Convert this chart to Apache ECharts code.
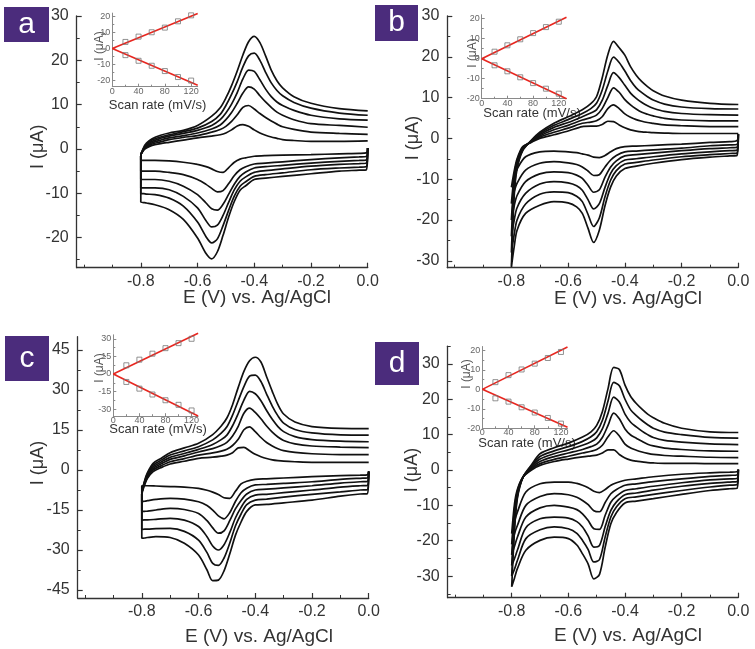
<!DOCTYPE html>
<html>
<head>
<meta charset="utf-8">
<script src="https://cdn.jsdelivr.net/npm/echarts@6/dist/echarts.min.js"></script>
<style>
html, body { margin: 0; padding: 0; background: #fff; }
#chart { width: 755px; height: 649px; }
</style>
</head>
<body>
<div id="chart"></div>
<script>
// 电位网格 (V)：正扫 -0.8 -> 0，回扫 0 -> -0.8
const upE = [-0.8, -0.79, -0.78, -0.76, -0.73, -0.7, -0.65, -0.6, -0.55, -0.52, -0.5, -0.48, -0.46, -0.44, -0.42, -0.4, -0.38, -0.36, -0.34, -0.32, -0.3, -0.26, -0.2, -0.1, 0];
const dnE = [0, -0.005, -0.03, -0.1, -0.2, -0.3, -0.36, -0.4, -0.43, -0.45, -0.47, -0.49, -0.51, -0.53, -0.55, -0.57, -0.6, -0.65, -0.7, -0.75, -0.78, -0.79, -0.8];

// a 图电流 (μA)，6 个扫速从小到大
const aUp = [
  [-1.5, -0.3, 0.2, 0.8, 1.2, 1.5, 2.0, 2.5, 2.9, 3.2, 3.6, 4.3, 5.2, 5.5, 5.1, 4.3, 3.6, 3.1, 2.7, 2.4, 2.1, 1.9, 1.7, 1.7, 1.8],
  [-1.5, -0.2, 0.4, 1.1, 1.6, 2.1, 2.6, 3.0, 3.8, 4.4, 5.1, 6.2, 7.7, 9.4, 9.8, 9.0, 8.0, 7.1, 6.3, 5.6, 5.0, 4.4, 3.8, 3.5, 3.3],
  [-1.5, -0.1, 0.6, 1.4, 2.0, 2.5, 3.0, 3.6, 4.5, 5.4, 6.6, 8.2, 10.3, 12.6, 14.0, 13.5, 12.0, 10.6, 9.4, 8.3, 7.6, 6.6, 5.7, 5.3, 4.9],
  [-1.5, 0.0, 0.8, 1.7, 2.4, 2.9, 3.5, 4.2, 5.3, 6.6, 8.1, 10.1, 12.7, 15.8, 17.8, 17.5, 15.6, 13.5, 11.8, 10.6, 9.8, 8.7, 7.6, 6.8, 6.5],
  [-1.5, 0.1, 1.0, 2.0, 2.7, 3.2, 3.9, 4.7, 6.2, 7.8, 9.8, 12.3, 15.2, 18.5, 21.0, 21.6, 20.0, 17.3, 14.9, 13.2, 12.0, 10.5, 9.2, 8.1, 7.6],
  [-1.5, 0.3, 1.3, 2.3, 3.1, 3.6, 4.2, 5.3, 7.4, 9.3, 11.5, 14.3, 17.6, 21.2, 24.2, 25.4, 24.0, 21.0, 17.8, 15.4, 13.8, 11.8, 10.3, 9.1, 8.6]
];
const aDn = [
  [0.2, -0.9, -1.0, -1.1, -1.3, -1.4, -1.5, -1.65, -2.0, -2.3, -3.0, -4.2, -5.3, -5.1, -4.5, -4.0, -3.5, -3.0, -2.7, -2.6, -2.6, -2.6, -2.6],
  [0.2, -1.7, -1.8, -2.0, -2.4, -2.9, -3.2, -3.4, -4.0, -4.7, -6.0, -7.8, -9.4, -9.7, -8.9, -8.0, -6.9, -5.8, -5.3, -5.0, -5.0, -5.0, -5.0],
  [0.2, -2.5, -2.6, -2.8, -3.2, -3.7, -4.0, -4.3, -5.2, -6.2, -7.9, -10.2, -12.5, -13.8, -13.5, -12.2, -10.3, -8.4, -7.3, -6.9, -6.9, -6.9, -6.9],
  [0.2, -3.2, -3.3, -3.5, -3.9, -4.5, -4.9, -5.3, -6.3, -7.3, -9.2, -12.0, -15.0, -17.2, -17.6, -16.2, -13.3, -10.7, -9.2, -8.8, -8.8, -8.8, -8.8],
  [0.2, -4.0, -4.1, -4.3, -4.7, -5.4, -5.8, -6.2, -7.4, -8.4, -10.6, -13.8, -17.3, -20.3, -21.2, -19.8, -16.5, -12.9, -11.1, -10.3, -10.2, -10.1, -10.1],
  [0.2, -4.7, -4.8, -5.0, -5.6, -6.2, -6.6, -6.9, -8.3, -9.3, -11.8, -15.3, -19.5, -23.2, -24.8, -23.6, -20.1, -15.9, -13.7, -12.6, -12.2, -12.1, -12.0]
];

// b 图
const bUp = [
  [-12, -8, -5, -2.0, -1.0, 0.0, 0.9, 1.8, 2.9, 3.0, 3.0, 3.4, 4.2, 4.1, 3.3, 2.6, 2.1, 1.8, 1.6, 1.5, 1.4, 1.3, 1.2, 1.2, 1.2],
  [-16, -9, -5.5, -2.2, -0.9, 0.3, 1.5, 2.5, 3.7, 4.0, 4.3, 5.3, 7.3, 8.2, 7.3, 6.0, 5.2, 4.6, 4.2, 3.9, 3.7, 3.3, 3.1, 2.9, 2.9],
  [-20, -10, -6, -2.4, -0.8, 0.6, 2.1, 3.2, 4.5, 5.1, 5.7, 7.3, 10.0, 12.4, 11.3, 9.5, 8.2, 7.2, 6.4, 5.9, 5.5, 4.9, 4.5, 4.3, 4.3],
  [-24, -11, -6.5, -2.6, -0.7, 0.9, 2.7, 3.9, 5.3, 6.2, 7.0, 9.3, 13.0, 16.1, 14.9, 13.0, 11.1, 9.8, 8.8, 8.0, 7.4, 6.6, 6.1, 5.8, 5.7],
  [-28, -12.5, -7, -2.8, -0.6, 1.2, 3.2, 4.6, 6.1, 7.3, 8.6, 11.8, 16.5, 19.9, 18.6, 16.5, 14.2, 12.4, 11.2, 10.2, 9.4, 8.4, 7.7, 7.3, 7.2],
  [-31.5, -14, -7.5, -3.0, -0.5, 1.5, 3.7, 5.3, 7.0, 8.5, 10.2, 14.8, 20.5, 23.8, 22.2, 20.4, 17.6, 15.5, 13.9, 12.7, 11.7, 10.4, 9.4, 8.6, 8.3]
];
const bDn = [
  [1.0, -0.6, -0.8, -1.0, -1.4, -1.7, -1.9, -2.0, -2.5, -3.3, -4.2, -4.7, -4.6, -4.1, -3.8, -3.5, -3.3, -3.1, -3.3, -4.5, -7.5, -9.5, -12],
  [1.0, -1.5, -1.6, -1.8, -2.4, -2.8, -3.1, -3.3, -4.2, -5.3, -7.0, -8.9, -9.1, -8.0, -7.0, -6.4, -6.0, -5.7, -6.1, -7.8, -11, -13, -16],
  [1.0, -2.2, -2.3, -2.5, -3.0, -3.6, -4.0, -4.3, -5.5, -7.0, -9.5, -12.6, -13.2, -11.5, -9.8, -9.0, -8.4, -8.2, -8.7, -10.6, -14, -16.5, -20],
  [1.0, -2.9, -3.0, -3.3, -3.8, -4.5, -5.0, -5.3, -6.7, -8.6, -12.0, -16.0, -17.3, -15.0, -12.7, -11.6, -10.9, -10.6, -11.2, -13.5, -17, -20, -24],
  [1.0, -3.6, -3.7, -4.0, -4.5, -5.3, -5.9, -6.3, -7.9, -10.2, -14.3, -19.5, -21.6, -18.6, -15.5, -14.2, -13.3, -13.1, -13.7, -16.1, -20, -23.5, -28],
  [1.0, -4.2, -4.3, -4.6, -5.2, -6.1, -6.8, -7.4, -9.2, -11.9, -16.5, -22.5, -25.5, -22.0, -18.4, -16.8, -15.8, -15.5, -16.4, -18.4, -22.5, -26.5, -31.5]
];

// c 图
const cUp = [
  [-9, -5.5, -3.1, -0.6, 1.0, 2.25, 3.3, 4.4, 4.8, 5.2, 5.6, 6.5, 8.3, 8.5, 7.2, 5.9, 5.0, 4.3, 3.8, 3.5, 3.3, 3.1, 2.9, 2.9, 2.9],
  [-9, -5.2, -2.7, 0.0, 1.7, 3.1, 4.3, 5.6, 6.4, 7.1, 7.8, 9.2, 11.5, 15.1, 16.2, 14.4, 12.2, 10.3, 9.0, 8.0, 7.3, 6.6, 6.1, 5.8, 5.75],
  [-9, -4.9, -2.3, 0.6, 2.4, 4.0, 5.3, 6.75, 8.0, 9.2, 10.4, 12.8, 16.4, 21.3, 23.2, 21.6, 19.2, 16.5, 14.2, 12.4, 11.1, 9.8, 9.0, 8.6, 8.4],
  [-9, -4.6, -1.9, 1.2, 3.1, 4.75, 6.2, 7.75, 9.6, 11.4, 13.1, 16.6, 21.2, 26.2, 29.5, 28.6, 26.0, 22.3, 19.0, 16.3, 14.4, 12.5, 11.4, 10.8, 10.6],
  [-9, -4.3, -1.5, 1.8, 3.8, 5.6, 7.2, 8.75, 11.3, 13.8, 16.2, 20.6, 26.0, 31.3, 35.2, 35.6, 33.2, 28.5, 24.0, 20.3, 17.6, 15.2, 13.9, 13.2, 13.1],
  [-9, -4, -1.0, 2.5, 4.5, 6.5, 8.3, 10.0, 13.3, 16.5, 19.5, 24.5, 31.0, 37.0, 41.0, 42.3, 40.5, 35.0, 29.5, 24.5, 21.0, 18.0, 16.3, 15.6, 15.5]
];
const cDn = [
  [-0.6, -1.8, -1.9, -2.1, -2.5, -3.0, -3.3, -3.5, -4.2, -5.2, -8.0, -10.6, -10.4, -9.2, -8.3, -7.6, -6.9, -6.4, -6.2, -6.0, -5.9, -5.9, -5.9],
  [-0.6, -3.0, -3.1, -3.5, -4.4, -5.0, -5.4, -5.6, -6.8, -8.5, -11.8, -16.0, -18.3, -17.2, -15.0, -13.3, -11.9, -10.9, -10.6, -11.0, -11.5, -11.7, -11.9],
  [-0.6, -4.3, -4.4, -4.9, -5.9, -6.7, -7.2, -7.5, -9.0, -11.4, -14.6, -19.0, -22.8, -23.7, -21.7, -19.0, -16.3, -14.8, -14.4, -15.0, -15.4, -15.5, -15.6],
  [-0.6, -5.8, -5.9, -6.4, -7.5, -8.5, -9.1, -9.4, -11.0, -14.0, -18.0, -23.5, -28.0, -30.0, -28.5, -25.0, -21.2, -18.8, -18.1, -18.5, -18.7, -18.7, -18.8],
  [-0.6, -7.4, -7.5, -8.2, -9.1, -10.2, -10.9, -11.3, -13.0, -16.5, -21.0, -27.5, -33.0, -35.8, -35.0, -31.0, -26.3, -23.0, -21.9, -22.0, -22.2, -22.2, -22.3],
  [-0.6, -8.9, -9.0, -9.8, -11.3, -12.3, -12.9, -13.1, -15.5, -19.5, -24.5, -31.5, -37.8, -41.3, -41.5, -37.5, -31.9, -27.5, -25.3, -25.0, -25.3, -25.5, -25.6]
];

// d 图
const dUp = [
  [-18, -9.5, -5.5, -2.0, 0.0, 1.3, 2.4, 3.1, 3.7, 4.0, 4.2, 4.8, 5.7, 5.7, 4.4, 3.4, 2.8, 2.5, 2.3, 2.1, 2.0, 1.9, 1.9, 1.8, 1.8],
  [-21, -11, -6, -2.0, 0.3, 1.8, 3.0, 3.9, 4.8, 5.3, 5.8, 7.0, 9.4, 11.1, 9.6, 7.3, 6.2, 5.6, 5.1, 4.7, 4.4, 4.1, 3.9, 3.6, 3.5],
  [-24, -12.5, -6.5, -2.0, 0.6, 2.4, 3.8, 4.8, 5.8, 6.6, 7.3, 9.2, 12.6, 16.1, 14.5, 11.6, 9.9, 9.0, 8.1, 7.3, 6.8, 6.2, 5.8, 5.4, 5.3],
  [-27, -14, -7, -2.0, 0.9, 3.1, 4.6, 5.7, 7.0, 8.0, 9.1, 11.6, 16.0, 20.6, 19.2, 15.8, 13.5, 12.2, 11.0, 10.0, 9.2, 8.4, 7.9, 7.4, 7.2],
  [-30, -15.5, -7.5, -2.0, 1.2, 3.8, 5.4, 6.6, 8.1, 9.4, 10.8, 14.0, 19.5, 24.8, 23.8, 20.0, 17.0, 15.4, 14.0, 12.8, 11.8, 10.7, 10.0, 9.2, 9.0],
  [-33, -17, -8, -2.0, 1.5, 4.6, 6.3, 7.6, 9.3, 10.8, 12.6, 16.5, 23.0, 29.0, 28.4, 24.0, 20.8, 18.8, 17.2, 15.8, 14.8, 13.2, 11.8, 10.8, 10.6]
];
const dDn = [
  [0.1, -0.5, -0.6, -0.8, -1.2, -1.9, -2.5, -2.9, -3.6, -4.3, -5.5, -6.4, -6.0, -5.0, -4.3, -3.8, -3.4, -3.4, -3.9, -6.2, -11.9, -14.5, -18],
  [0.1, -1.4, -1.5, -1.8, -2.5, -3.3, -3.9, -4.3, -5.5, -6.7, -9.2, -11.8, -11.5, -9.8, -8.6, -7.7, -7.0, -6.7, -7.5, -10, -15.7, -18, -21],
  [0.1, -2.4, -2.5, -2.8, -3.6, -4.6, -5.3, -5.8, -7.4, -9.1, -12.8, -16.8, -16.6, -14.3, -12.4, -11.2, -10.5, -10.0, -10.7, -13.3, -19.0, -21.5, -24],
  [0.1, -3.3, -3.4, -3.8, -4.6, -5.7, -6.5, -7.0, -9.0, -11.4, -16.0, -21.3, -21.8, -18.7, -16.1, -14.6, -13.6, -13.3, -13.8, -16.3, -22.7, -25, -27],
  [0.1, -4.2, -4.3, -4.8, -5.8, -6.9, -7.6, -8.1, -10.4, -13.3, -18.9, -25.3, -26.0, -22.5, -19.9, -17.9, -16.6, -16.1, -16.9, -19.4, -25.6, -28, -30],
  [0.1, -5.2, -5.3, -5.8, -6.9, -8.1, -8.8, -9.3, -12.0, -15.2, -21.8, -29.5, -30.8, -26.6, -23.7, -21.2, -19.4, -19.0, -19.9, -22.7, -27.9, -30.5, -33]
];

// 插图：峰电流 vs 扫速
const rate = [20, 40, 60, 80, 100, 120];
const aOx = [4.1, 7.4, 10.1, 13.0, 16.9, 20.6];
const aRed = [-4.1, -7.6, -10.7, -14.0, -17.7, -19.9];
const bOx = [3.5, 6.7, 9.7, 12.8, 15.8, 18.5];
const bRed = [-3.3, -6.3, -9.3, -12.2, -15.0, -17.5];
const cOx = [7.4, 12.2, 17.3, 22.0, 26.3, 30.0];
const cRed = [-6.8, -12.5, -17.5, -22.4, -26.3, -31.1];
const dOx = [3.7, 7.3, 10.2, 13.2, 16.1, 19.2];
const dRed = [-4.6, -6.3, -9.2, -11.9, -14.7, -17.6];
// 拟合直线端点
const aFitOx = [[0, 0], [130, 21.8]];
const aFitRed = [[0, 0], [130, -22.8]];
const bFitOx = [[0, 0], [132, 20.7]];
const bFitRed = [[0, 0], [132, -20]];
const cFitOx = [[0, 0], [130, 34.8]];
const cFitRed = [[0, 0], [130, -35.9]];
const dFitOx = [[0, 0], [130, 21.7]];
const dFitRed = [[0, 0], [130, -19.5]];

// 刻度
const eTicks = [-0.8, -0.6, -0.4, -0.2, 0];
const eMinor = [-1.0, -0.9, -0.7, -0.5, -0.3, -0.1];
const aYTicks = [-20, -10, 0, 10, 20, 30];
const aYMinor = [-25, -15, -5, 5, 15, 25];
const bYTicks = [-30, -20, -10, 0, 10, 20, 30];
const bYMinor = [-25, -15, -5, 5, 15, 25];
const cYTicks = [-45, -30, -15, 0, 15, 30, 45];
const cYMinor = [-37.5, -22.5, -7.5, 7.5, 22.5, 37.5];
const dYTicks = [-30, -20, -10, 0, 10, 20, 30];
const dYMinor = [-35, -25, -15, -5, 5, 15, 25, 35];
const rateTicks = [0, 40, 80, 120];
const rateMinor = [20, 60, 100];
const in20Ticks = [-20, -10, 0, 10, 20];
const in20Minor = [-15, -5, 5, 15];
const in30Ticks = [-30, -15, 0, 15, 30];
const in30Minor = [-22.5, -7.5, 7.5, 22.5];

const FONT = '"Liberation Sans", Arial, Helvetica, sans-serif';

// 网格布局
const grids = [
  { left: 76.7, top: 16, width: 291, height: 251.7 },
  { left: 447.3, top: 16, width: 291, height: 251.7 },
  { left: 77.7, top: 336.7, width: 291, height: 261.3 },
  { left: 447.7, top: 346.2, width: 290.6, height: 251.5 },
  { left: 112.3, top: 13.1, width: 85.4, height: 73.6 },
  { left: 481.7, top: 14.7, width: 84.8, height: 84 },
  { left: 113.3, top: 334.8, width: 84.8, height: 81.4 },
  { left: 482.3, top: 346.5, width: 85.2, height: 81.8 }
];

const xAxes = [];
const yAxes = [];

// 每个网格两根轴：主刻度+标签，次刻度
function addAxes(list, dim, gi, min, max, majors, minors, main, fmt) {
  const base = {
    type: 'value', gridIndex: gi, min: min, max: max,
    position: dim === 'x' ? 'bottom' : 'left',
    splitLine: { show: false },
    silent: true
  };
  const lineColor = main ? '#333' : '#8a8a8a';
  let margin = 8;
  if (main && dim === 'x') margin = 6;
  if (!main) margin = dim === 'x' ? 0 : 2;
  list.push(Object.assign({}, base, {
    axisLine: { show: true, onZero: false, lineStyle: { color: lineColor, width: main ? 1.3 : 1 } },
    axisTick: { show: true, inside: true, length: main ? 5 : 3, customValues: majors, lineStyle: { color: lineColor, width: main ? 1.2 : 1 } },
    axisLabel: {
      show: true, customValues: majors, formatter: fmt, margin: margin,
      color: main ? '#333' : '#666', fontSize: main ? 16 : 9, fontFamily: FONT
    }
  }));
  list.push(Object.assign({}, base, {
    axisLine: { show: false, onZero: false },
    axisTick: { show: true, inside: true, length: main ? 3 : 2, customValues: minors, lineStyle: { color: lineColor, width: 1 } },
    axisLabel: { show: false }
  }));
}

const fmtE = v => v.toFixed(1);
const fmtI = v => String(Math.round(v));

addAxes(xAxes, 'x', 0, -1.026, 0, eTicks, eMinor, true, fmtE);
addAxes(xAxes, 'x', 1, -1.026, 0, eTicks, eMinor, true, fmtE);
addAxes(xAxes, 'x', 2, -1.026, 0, eTicks, eMinor, true, fmtE);
addAxes(xAxes, 'x', 3, -1.026, 0, eTicks, eMinor, true, fmtE);
addAxes(yAxes, 'y', 0, -26.8, 30, aYTicks, aYMinor, true, fmtI);
addAxes(yAxes, 'y', 1, -31.7, 30, bYTicks, bYMinor, true, fmtI);
addAxes(yAxes, 'y', 2, -48, 50, cYTicks, cYMinor, true, fmtI);
addAxes(yAxes, 'y', 3, -36.1, 35, dYTicks, dYMinor, true, fmtI);

addAxes(xAxes, 'x', 4, 0, 130, rateTicks, rateMinor, false, fmtI);
addAxes(xAxes, 'x', 5, 0, 132, rateTicks, rateMinor, false, fmtI);
addAxes(xAxes, 'x', 6, 0, 130, rateTicks, rateMinor, false, fmtI);
addAxes(xAxes, 'x', 7, 0, 130, rateTicks, rateMinor, false, fmtI);
addAxes(yAxes, 'y', 4, -23.7, 22, in20Ticks, in20Minor, false, fmtI);
addAxes(yAxes, 'y', 5, -20, 22, in20Ticks, in20Minor, false, fmtI);
addAxes(yAxes, 'y', 6, -36, 33.4, in30Ticks, in30Minor, false, fmtI);
addAxes(yAxes, 'y', 7, -20, 22, in20Ticks, in20Minor, false, fmtI);

// CV 曲线：回扫段 + 正扫段
function loop(dn, up) {
  const pts = dnE.map((e, i) => [e, dn[i]]);
  upE.forEach((e, i) => pts.push([e, up[i]]));
  return pts;
}

const series = [];
const cvSets = [[aDn, aUp], [bDn, bUp], [cDn, cUp], [dDn, dUp]];
cvSets.forEach((set, g) => {
  set[0].forEach((dn, k) => {
    series.push({
      type: 'line', xAxisIndex: 2 * g, yAxisIndex: 2 * g,
      data: loop(dn, set[1][k]),
      showSymbol: false, smooth: 0.3, silent: true,
      lineStyle: { color: '#111', width: 1.7 }
    });
  });
});

const insetSets = [
  [aOx, aRed, aFitOx, aFitRed],
  [bOx, bRed, bFitOx, bFitRed],
  [cOx, cRed, cFitOx, cFitRed],
  [dOx, dRed, dFitOx, dFitRed]
];
insetSets.forEach((set, k) => {
  const ax = 2 * (k + 4);
  [set[2], set[3]].forEach(fit => {
    series.push({
      type: 'line', xAxisIndex: ax, yAxisIndex: ax, data: fit,
      showSymbol: false, clip: false, silent: true, z: 3,
      lineStyle: { color: '#e8261f', width: 1.6 }
    });
  });
  [set[0], set[1]].forEach(vals => {
    series.push({
      type: 'scatter', xAxisIndex: ax, yAxisIndex: ax,
      data: rate.map((r, i) => [r, vals[i]]),
      symbol: 'rect', symbolSize: 5, silent: true, z: 4,
      itemStyle: { color: 'rgba(255,255,255,0)', borderColor: '#777', borderWidth: 1 }
    });
  });
});

// 文字与标号
const graphic = [];
function text(str, x, y, size, color, rot) {
  graphic.push({
    type: 'text', x: x, y: y, rotation: rot || 0, silent: true,
    style: { text: str, fontSize: size, fontFamily: FONT, fill: color, textAlign: 'center', textVerticalAlign: 'middle' }
  });
}
const tags = [
  { ch: 'a', x: 4, y: 7, w: 45, h: 35 },
  { ch: 'b', x: 375, y: 5, w: 43, h: 36 },
  { ch: 'c', x: 5, y: 336, w: 44, h: 45 },
  { ch: 'd', x: 375, y: 342, w: 44, h: 43 }
];
tags.forEach(t => {
  graphic.push({ type: 'rect', silent: true, shape: { x: t.x, y: t.y, width: t.w, height: t.h }, style: { fill: '#4b2c7c' } });
  text(t.ch, t.x + t.w / 2, t.y + t.h / 2, 30, '#fff');
});
const xTitle = 'E (V) vs. Ag/AgCl';
text(xTitle, 257, 298, 19, '#333');
text(xTitle, 628, 298.5, 19, '#333');
text(xTitle, 259, 637, 19, '#333');
text(xTitle, 628, 636, 19, '#333');
text('I (μA)', 38.3, 146.7, 18, '#333', Math.PI / 2);
text('I (μA)', 413.3, 138, 18, '#333', Math.PI / 2);
text('I (μA)', 38, 463, 18, '#333', Math.PI / 2);
text('I (μA)', 412, 470, 18, '#333', Math.PI / 2);
text('Scan rate (mV/s)', 157.5, 105, 13, '#333');
text('Scan rate (mV/s)', 532, 113, 13, '#333');
text('Scan rate (mV/s)', 158, 429, 13, '#333');
text('Scan rate (mV/s)', 527, 443, 13, '#333');
text('I (μA)', 100, 46, 12, '#555', Math.PI / 2);
text('I (μA)', 473, 53, 12, '#555', Math.PI / 2);
text('I (μA)', 100, 368, 12, '#555', Math.PI / 2);
text('I (μA)', 467, 374, 12, '#555', Math.PI / 2);

const myChart = echarts.init(document.getElementById('chart'));
myChart.setOption({
  animation: false,
  backgroundColor: '#fff',
  grid: grids,
  xAxis: xAxes,
  yAxis: yAxes,
  series: series,
  graphic: graphic
});
window.addEventListener('resize', myChart.resize);
</script>
</body>
</html>
